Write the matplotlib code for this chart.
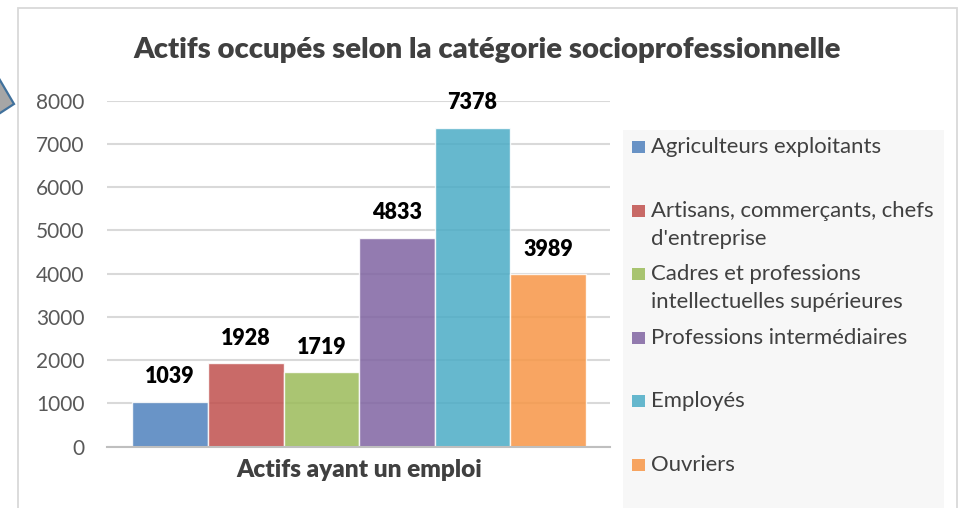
import numpy as np
import matplotlib
matplotlib.use('Agg')
import matplotlib.pyplot as plt
from matplotlib.patches import Rectangle, Polygon

plt.rcParams['font.family'] = ['Lato', 'DejaVu Sans']

# data
title = 'Actifs occupés selon la catégorie socioprofessionnelle'
group_label = 'Actifs ayant un emploi'
categories = ['Agriculteurs exploitants',
              "Artisans, commerçants, chefs\nd'entreprise",
              'Cadres et professions\nintellectuelles supérieures',
              'Professions intermédiaires',
              'Employés',
              'Ouvriers']
values = [1039, 1928, 1719, 4833, 7378, 3989]
colors = ['#4f81bd', '#c0504d', '#9bbb59', '#8064a2', '#4bacc6', '#f79646']
yticks = [0, 1000, 2000, 3000, 4000, 5000, 6000, 7000, 8000]

W, H = 959, 508
fig = plt.figure(figsize=(W / 100, H / 100), dpi=100)


def fx(px):
    return px / W


def fy(py):
    return 1 - py / H


# chart frame (bottom edge falls outside the picture)
fig.patches.append(Rectangle((fx(18), fy(530)), fx(957) - fx(18), fy(8) - fy(530),
                             transform=fig.transFigure, fill=False,
                             edgecolor='#d9d9d9', lw=1.3))
# bit of a callout shape sticking in from the left
fig.patches.append(Polygon([(fx(-6), fy(70)), (fx(14), fy(104)), (fx(-6), fy(117))],
                           closed=True, transform=fig.transFigure,
                           facecolor='#a6a6a6', edgecolor='#41719c', lw=1.6))

fig.text(fx(487), fy(50), title, ha='center', va='center',
         fontsize=21.1, fontweight='heavy', color='#404040')

#############################
# bars
ax = fig.add_axes([fx(107), fy(446.7), fx(610) - fx(107), fy(100.7) - fy(446.7)])
x = np.arange(len(values))
ax.bar(x, values, width=1.0, color=colors, alpha=0.85, edgecolor='white', linewidth=1)
ax.set_xlim(-0.835, 5.817)
ax.set_ylim(0, 8000)
ax.set_yticks(yticks)
ax.yaxis.grid(True, color='#d9d9d9', lw=1.5)
ax.set_axisbelow(True)
for s in ['top', 'right', 'left']:
    ax.spines[s].set_visible(False)
ax.spines['bottom'].set_color('#bfbfbf')
ax.spines['bottom'].set_linewidth(1.5)
ax.tick_params(axis='y', length=0, pad=16, labelsize=15, labelcolor='#595959')
ax.set_xticks([x.mean()])
ax.set_xticklabels([group_label], fontsize=17.6, fontweight='heavy', color='#404040')
ax.tick_params(axis='x', length=0, pad=9)

for xi, v in zip(x, values):
    ax.annotate(str(v), (xi, v), xytext=(0, 18), textcoords='offset points',
                ha='center', va='center', fontsize=15.5, fontweight='heavy', color='black')

#############################
# legend box drawn by hand
fig.patches.append(Rectangle((fx(623), fy(530)), fx(944) - fx(623), fy(130) - fy(530),
                             transform=fig.transFigure, facecolor='#f7f7f7',
                             edgecolor='none', zorder=0))
for i, (lab, c) in enumerate(zip(categories, colors)):
    yc = 147 + i * 63.6
    fig.patches.append(Rectangle((fx(632), fy(yc + 6)), fx(645) - fx(632), fy(yc - 6) - fy(yc + 6),
                                 transform=fig.transFigure, facecolor=c, alpha=0.85,
                                 edgecolor='none'))
    for j, line in enumerate(lab.split('\n')):
        fig.text(fx(651), fy(yc + j * 28), line, ha='left', va='center',
                 fontsize=15.9, color='#404040')

plt.savefig('out.png', dpi=100)
